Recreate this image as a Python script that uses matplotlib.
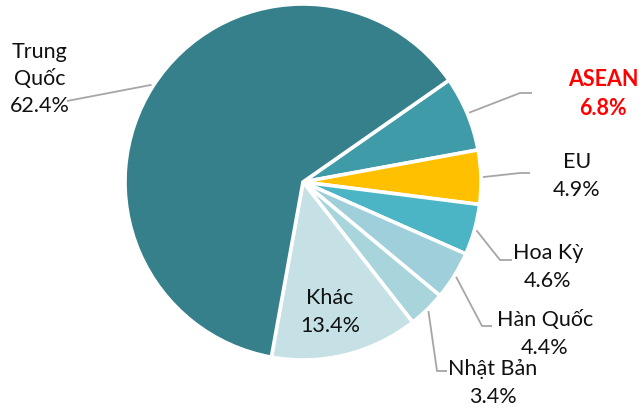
import numpy as np
import matplotlib
matplotlib.use("Agg")
import matplotlib.pyplot as plt

labels = ["ASEAN", "EU", "Hoa Kỳ", "Hàn Quốc", "Nhật Bản", "Khác", "Trung\nQuốc"]
values = [6.8, 4.9, 4.6, 4.4, 3.4, 13.4, 62.4]
colors = ["#409BA8", "#FFC000", "#4BB4C5", "#9FCFDA", "#A8D4DC", "#C6E1E6", "#35808A"]

W, H = 641, 408
fig = plt.figure(figsize=(W / 100, H / 100), dpi=100)
ax = fig.add_axes([0, 0, 1, 1])

cx, cy, r = 303, H - 182, 178
start = 34.9
wedges, _ = ax.pie(values, colors=colors, startangle=start, counterclock=False,
                   center=(cx, cy), radius=r, normalize=True,
                   wedgeprops=dict(edgecolor="white", linewidth=2.6))
ax.set_xlim(0, W)
ax.set_ylim(0, H)
ax.set_aspect("equal")
ax.axis("off")

font = "Lato"
fs = 15.5
ls = 1.45
line_col = "#A6A6A6"

# label layout: (text x, text y, elbow, end) in image pixel coords (y down)
layout = {
    "Trung\nQuốc": dict(tx=40, ty=79, pts=[(67, 101)]),
    "ASEAN": dict(tx=603, ty=94, pts=[(520, 93), (532, 93)]),
    "EU": dict(tx=577, ty=176, pts=[(520, 173), (530, 173)]),
    "Hoa Kỳ": dict(tx=548, ty=267, pts=[(500, 260), (512, 260)]),
    "Hàn Quốc": dict(tx=545, ty=334, pts=[(482, 326), (492, 326)]),
    "Nhật Bản": dict(tx=493, ty=383, pts=[(437, 371), (447, 371)]),
}

for w, lab, val in zip(wedges, labels, values):
    mid = np.deg2rad((w.theta1 + w.theta2) / 2)
    txt = f"{lab}\n{val:.1f}%"
    if lab == "Khác":
        ax.text(330, H - 312, txt, ha="center", va="center", fontsize=fs,
                family=font, color="#111111", linespacing=ls)
        continue
    L = layout[lab]
    x0 = cx + (r + 2) * np.cos(mid)
    y0 = cy + (r + 2) * np.sin(mid)
    xs = [x0] + [p[0] for p in L["pts"]]
    ys = [y0] + [H - p[1] for p in L["pts"]]
    ax.plot(xs, ys, color=line_col, lw=1.3, solid_capstyle="butt")
    if lab == "ASEAN":
        ax.text(L["tx"], H - L["ty"], txt, ha="center", va="center", fontsize=fs,
                family=font, color="#FF0000", fontweight="bold", linespacing=ls)
    else:
        ax.text(L["tx"], H - L["ty"], txt, ha="center", va="center", fontsize=fs,
                family=font, color="#111111", linespacing=ls)

fig.savefig("out.png", dpi=100)
